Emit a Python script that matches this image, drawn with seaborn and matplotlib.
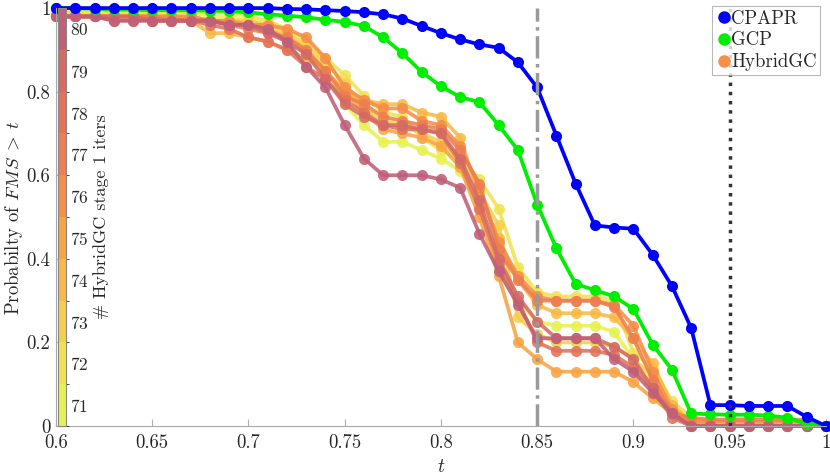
import numpy as np
import pandas as pd
import matplotlib
matplotlib.use('Agg')
import matplotlib.pyplot as plt
import seaborn as sns
from matplotlib.colors import ListedColormap, BoundaryNorm
from matplotlib.lines import Line2D

# thresholds t = 0.60 ... 1.00
t = np.round(np.arange(0.60, 1.001, 0.01), 2)

cpapr = [1.0, 1.0, 1.0, 1.0, 1.0, 1.0, 1.0, 1.0, 1.0, 1.0,
         1.0, 1.0, 0.998, 0.997, 0.995, 0.993, 0.99, 0.985, 0.975, 0.957,
         0.94, 0.925, 0.913, 0.905, 0.87, 0.81, 0.695, 0.58, 0.48, 0.475,
         0.472, 0.41, 0.335, 0.235, 0.05, 0.05, 0.048, 0.048, 0.048, 0.022,
         0.0]
gcp = [1.0, 1.0, 0.998, 0.997, 0.996, 0.995, 0.995, 0.995, 0.994, 0.993,
       0.99, 0.985, 0.982, 0.978, 0.972, 0.967, 0.957, 0.93, 0.892, 0.847,
       0.813, 0.787, 0.775, 0.72, 0.66, 0.53, 0.425, 0.34, 0.325, 0.31,
       0.28, 0.195, 0.135, 0.03, 0.028, 0.027, 0.027, 0.025, 0.02, 0.005,
       0.0]

iters = [71, 72, 73, 74, 75, 76, 77, 78, 79, 80]
hybrid = {
    71: [0.99, 0.99, 0.99, 0.99, 0.99, 0.99, 0.99, 0.99, 0.98, 0.98,
         0.97, 0.96, 0.94, 0.90, 0.86, 0.77, 0.72, 0.68, 0.68, 0.66,
         0.64, 0.61, 0.53, 0.37, 0.30, 0.25, 0.24, 0.24, 0.24, 0.225,
         0.16, 0.10, 0.04, 0.01, 0.01, 0.01, 0.01, 0.01, 0.01, 0.01, 0.0],
    72: [0.99, 0.99, 0.99, 0.99, 0.99, 0.99, 0.99, 0.99, 0.99, 0.99,
         0.98, 0.97, 0.95, 0.92, 0.88, 0.84, 0.79, 0.75, 0.74, 0.69,
         0.66, 0.64, 0.59, 0.52, 0.38, 0.32, 0.31, 0.31, 0.31, 0.30,
         0.175, 0.14, 0.06, 0.02, 0.01, 0.01, 0.01, 0.01, 0.01, 0.005, 0.0],
    73: [0.98, 0.98, 0.98, 0.98, 0.98, 0.98, 0.98, 0.98, 0.97, 0.97,
         0.97, 0.96, 0.94, 0.91, 0.87, 0.82, 0.76, 0.73, 0.72, 0.70,
         0.68, 0.64, 0.56, 0.48, 0.26, 0.22, 0.20, 0.20, 0.20, 0.19,
         0.16, 0.12, 0.05, 0.0, 0.0, 0.0, 0.0, 0.0, 0.0, 0.0, 0.0],
    74: [0.98, 0.98, 0.98, 0.98, 0.98, 0.97, 0.97, 0.97, 0.94, 0.94,
         0.93, 0.92, 0.90, 0.88, 0.85, 0.80, 0.78, 0.77, 0.77, 0.75,
         0.74, 0.69, 0.55, 0.45, 0.35, 0.29, 0.27, 0.27, 0.27, 0.26,
         0.21, 0.15, 0.05, 0.01, 0.0, 0.0, 0.0, 0.0, 0.0, 0.0, 0.0],
    75: [0.98, 0.98, 0.98, 0.98, 0.98, 0.98, 0.98, 0.97, 0.97, 0.96,
         0.96, 0.95, 0.93, 0.89, 0.85, 0.80, 0.75, 0.71, 0.70, 0.69,
         0.67, 0.62, 0.50, 0.36, 0.20, 0.16, 0.13, 0.13, 0.13, 0.13,
         0.105, 0.067, 0.03, 0.0, 0.0, 0.0, 0.0, 0.0, 0.0, 0.0, 0.0],
    76: [0.98, 0.98, 0.98, 0.98, 0.98, 0.98, 0.98, 0.98, 0.97, 0.97,
         0.96, 0.96, 0.95, 0.93, 0.88, 0.81, 0.78, 0.76, 0.76, 0.73,
         0.72, 0.67, 0.57, 0.44, 0.36, 0.31, 0.30, 0.30, 0.30, 0.29,
         0.24, 0.13, 0.04, 0.01, 0.01, 0.01, 0.01, 0.01, 0.01, 0.01, 0.0],
    77: [0.98, 0.98, 0.98, 0.98, 0.98, 0.98, 0.97, 0.97, 0.97, 0.96,
         0.95, 0.94, 0.93, 0.90, 0.85, 0.79, 0.77, 0.74, 0.73, 0.72,
         0.71, 0.66, 0.58, 0.42, 0.35, 0.30, 0.30, 0.30, 0.30, 0.285,
         0.21, 0.11, 0.03, 0.02, 0.015, 0.015, 0.015, 0.015, 0.015, 0.015, 0.0],
    78: [0.98, 0.98, 0.98, 0.97, 0.97, 0.97, 0.97, 0.97, 0.96, 0.95,
         0.93, 0.92, 0.90, 0.86, 0.83, 0.78, 0.75, 0.72, 0.71, 0.71,
         0.70, 0.63, 0.52, 0.39, 0.30, 0.20, 0.18, 0.18, 0.18, 0.17,
         0.14, 0.09, 0.02, 0.0, 0.0, 0.0, 0.0, 0.0, 0.0, 0.0, 0.0],
    79: [0.98, 0.98, 0.98, 0.98, 0.98, 0.97, 0.97, 0.97, 0.97, 0.96,
         0.96, 0.94, 0.92, 0.89, 0.83, 0.77, 0.74, 0.72, 0.72, 0.71,
         0.70, 0.64, 0.54, 0.40, 0.31, 0.25, 0.21, 0.21, 0.21, 0.19,
         0.16, 0.09, 0.03, 0.0, 0.0, 0.0, 0.0, 0.0, 0.0, 0.0, 0.0],
    80: [0.98, 0.98, 0.98, 0.97, 0.97, 0.97, 0.97, 0.97, 0.97, 0.96,
         0.96, 0.95, 0.92, 0.86, 0.81, 0.72, 0.64, 0.60, 0.60, 0.60,
         0.59, 0.57, 0.46, 0.37, 0.29, 0.21, 0.21, 0.21, 0.21, 0.16,
         0.13, 0.08, 0.03, 0.0, 0.0, 0.0, 0.0, 0.0, 0.0, 0.0, 0.0],
}
iter_colors = ['#e6f250', '#efe352', '#f5d04a', '#f8ba45', '#f9a443',
               '#f48e48', '#ec7e50', '#e37258', '#d56a66', '#c05f78']

sns.set_style('ticks')
plt.rcParams['font.family'] = 'serif'
plt.rcParams['font.serif'] = ['cmr10', 'DejaVu Serif']
plt.rcParams['mathtext.fontset'] = 'cm'
plt.rcParams['axes.formatter.use_mathtext'] = True

fig = plt.figure(figsize=(8.3, 4.76), dpi=100)
ax = fig.add_axes([0.0675, 0.105, 0.9275, 0.878])

rows = []
for it in iters:
    for tt, v in zip(t, hybrid[it]):
        rows.append((it, tt, v))
df = pd.DataFrame(rows, columns=['iters', 't', 'p'])

ms = 8
sns.lineplot(data=df, x='t', y='p', hue='iters', palette=dict(zip(iters, iter_colors)),
             units='iters', estimator=None, sort=False, legend=False,
             marker='o', markersize=ms, markeredgewidth=0, linewidth=2.7,
             alpha=0.88, clip_on=False, ax=ax)
sns.lineplot(x=t, y=gcp, color='#00ee00', marker='o', markersize=ms,
             markeredgewidth=0, linewidth=2.7, clip_on=False, ax=ax)
sns.lineplot(x=t, y=cpapr, color='#0000ff', marker='o', markersize=ms,
             markeredgewidth=0, linewidth=2.7, clip_on=False, ax=ax)

ax.axvline(0.85, color='#9a9a9a', linestyle='-.', linewidth=2.5, zorder=6)
ax.axvline(0.95, color='#333333', linestyle=':', linewidth=2.5, zorder=6)

ax.set_xlim(0.6, 1.0)
ax.set_ylim(0, 1)
ax.set_xticks([0.6, 0.65, 0.7, 0.75, 0.8, 0.85, 0.9, 0.95, 1.0])
ax.set_xticklabels(['0.6', '0.65', '0.7', '0.75', '0.8', '0.85', '0.9', '0.95', '1'])
ax.set_yticks([0, 0.2, 0.4, 0.6, 0.8, 1.0])
ax.set_yticklabels(['0', '0.2', '0.4', '0.6', '0.8', '1'])
ax.tick_params(direction='in', length=5, color='#b0b0b0', labelsize=13.5,
               labelcolor='#262626', pad=6)
ax.tick_params(axis='y', pad=4)
for side in ['top', 'right']:
    ax.spines[side].set_visible(False)
for side in ['left', 'bottom']:
    ax.spines[side].set_color('#a8a8a8')
ax.set_xlabel('$t$', fontsize=14, labelpad=4)
ax.set_ylabel(r'Probabilty of $FMS\;>\;t$', fontsize=13.5, labelpad=1)

# legend shows markers only
handles = [Line2D([], [], color='#0000ff', marker='o', linestyle='none', markersize=8),
           Line2D([], [], color='#00ee00', marker='o', linestyle='none', markersize=8),
           Line2D([], [], color='#f5904a', marker='o', linestyle='none', markersize=8)]
leg = ax.legend(handles, ['CPAPR', 'GCP', 'HybridGC'], loc='upper right',
                bbox_to_anchor=(0.993, 1.005), fontsize=13.5, frameon=True,
                fancybox=False, handletextpad=0.0, handlelength=0.8,
                borderpad=0.2, labelspacing=0.2, borderaxespad=0)
leg.get_frame().set_edgecolor('#a8a8a8')
leg.get_frame().set_linewidth(0.8)
leg.set_zorder(10)

# discrete colorbar sitting inside the axes on the left
cmap = ListedColormap(iter_colors)
norm = BoundaryNorm(np.arange(70.5, 81.5, 1), cmap.N)
cax = ax.inset_axes([0.002, 0.0, 0.011, 1.0])
cax.set_zorder(8)
cb = fig.colorbar(plt.cm.ScalarMappable(norm=norm, cmap=cmap), cax=cax, ticks=iters)
cb.outline.set_edgecolor('#888888')
cb.outline.set_linewidth(0.8)
cax.tick_params(length=0, labelsize=12.5, pad=3, labelcolor='#262626')
cb.set_label('# HybridGC stage 1 iters', fontsize=13, labelpad=3)

fig.savefig('out.png', dpi=100)
